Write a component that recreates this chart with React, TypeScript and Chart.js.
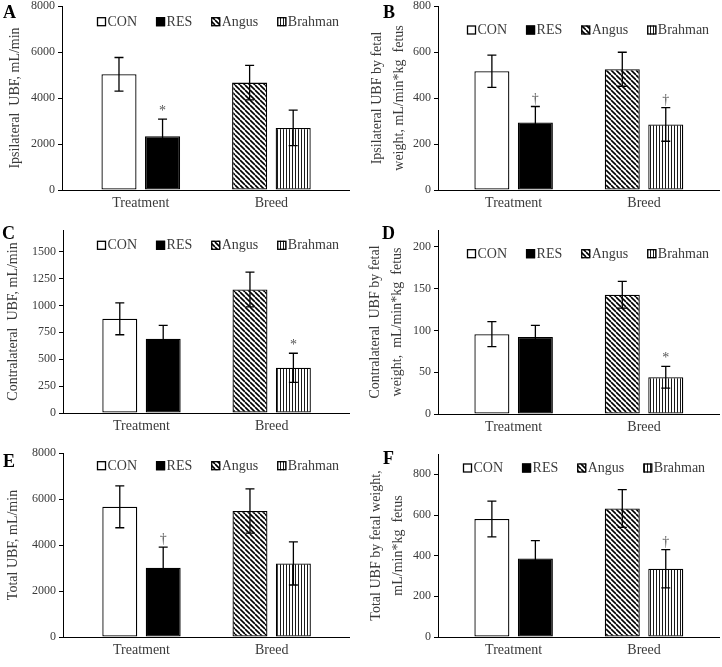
import React, { useEffect, useRef } from 'react';
import { Chart, registerables } from 'chart.js';

Chart.register(...registerables);

// ---------- data ----------
const categories = ['Treatment', 'Breed'];
const seriesNames = ['CON', 'RES', 'Angus', 'Brahman'];
const seriesCategory = [0, 0, 1, 1];

// A: Ipsilateral UBF, mL/min
const ipsiMeans = [5030, 2340, 4670, 2700];
const ipsiSem = [730, 740, 750, 770];
const ipsiMarks = ['', '*', '', ''];
const ipsiTicks = [0, 2000, 4000, 6000, 8000];

// B: Ipsilateral UBF by fetal weight
const ipsiFwMeans = [516, 294, 525, 285];
const ipsiFwSem = [70, 69, 74, 73];
const ipsiFwMarks = ['', '†', '', '†'];
const ipsiFwTicks = [0, 200, 400, 600, 800];

// C: Contralateral UBF, mL/min
const contraMeans = [875, 690, 1147, 420];
const contraSem = [148, 124, 162, 135];
const contraMarks = ['', '', '', '*'];
const contraTicks = [0, 250, 500, 750, 1000, 1250, 1500];

// D: Contralateral UBF by fetal weight
const contraFwMeans = [95.5, 92, 142.5, 44];
const contraFwSem = [15, 14, 16, 13];
const contraFwMarks = ['', '', '', '*'];
const contraFwTicks = [0, 50, 100, 150, 200];

// E: Total UBF, mL/min
const totalMeans = [5660, 3010, 5480, 3200];
const totalSem = [910, 900, 960, 940];
const totalMarks = ['', '†', '', ''];
const totalTicks = [0, 2000, 4000, 6000, 8000];

// F: Total UBF by fetal weight
const totalFwMeans = [580, 386, 632, 336];
const totalFwSem = [88, 88, 93, 94];
const totalFwMarks = ['', '', '', '†'];
const totalFwTicks = [0, 200, 400, 600, 800];

const panels = [
  { letter: 'A', means: ipsiMeans, sem: ipsiSem, marks: ipsiMarks, ticks: ipsiTicks, max: 8000, title: 'Ipsilateral  UBF, mL/min' as string | string[] },
  { letter: 'B', means: ipsiFwMeans, sem: ipsiFwSem, marks: ipsiFwMarks, ticks: ipsiFwTicks, max: 800, title: ['Ipsilateral UBF by fetal', 'weight, mL/min*kg  fetus'] },
  { letter: 'C', means: contraMeans, sem: contraSem, marks: contraMarks, ticks: contraTicks, max: 1700, title: 'Contralateral  UBF, mL/min' },
  { letter: 'D', means: contraFwMeans, sem: contraFwSem, marks: contraFwMarks, ticks: contraFwTicks, max: 220, title: ['Contralateral  UBF by fetal', 'weight,  mL/min*kg  fetus'] },
  { letter: 'E', means: totalMeans, sem: totalSem, marks: totalMarks, ticks: totalTicks, max: 8000, title: 'Total UBF, mL/min' },
  { letter: 'F', means: totalFwMeans, sem: totalFwSem, marks: totalFwMarks, ticks: totalFwTicks, max: 900, title: ['Total UBF by fetal weight,', 'mL/min*kg  fetus'] },
];

// ---------- layout ----------
const layouts = [
  { x: 0, y: 0, w: 361, h: 222, left: 62, top: 6, right: 349, bottom: 190, xMin: -0.603, xMax: 1.594, legendX: 97, legendY: 21.7, letterX: 3, letterY: 18, titlePad: 6.6 },
  { x: 361, y: 0, w: 361, h: 222, left: 77, top: 6, right: 358, bottom: 190, xMin: -0.58, xMax: 1.575, legendX: 106, legendY: 30, letterX: 22, letterY: 18, titlePad: 5 },
  { x: 0, y: 222, w: 361, h: 222, left: 63, top: 8, right: 349, bottom: 191, xMin: -0.603, xMax: 1.594, legendX: 97, legendY: 23.3, letterX: 2, letterY: 17, titlePad: 4.6 },
  { x: 361, y: 222, w: 361, h: 222, left: 77, top: 8, right: 358, bottom: 192, xMin: -0.58, xMax: 1.575, legendX: 106, legendY: 31.7, letterX: 21, letterY: 17, titlePad: 3 },
  { x: 0, y: 444, w: 361, h: 223, left: 63, top: 9, right: 349, bottom: 193, xMin: -0.603, xMax: 1.594, legendX: 97, legendY: 21.7, letterX: 3, letterY: 23, titlePad: 4.6 },
  { x: 361, y: 444, w: 361, h: 223, left: 77, top: 10, right: 358, bottom: 193, xMin: -0.58, xMax: 1.575, legendX: 102, legendY: 24, letterX: 22, letterY: 20, titlePad: 4 },
];

const FAMILY = '"Liberation Serif", "Times New Roman", serif';
const TEXT = '#3a3a3a';

function makeDiagPattern(): CanvasPattern | string {
  const s = 5;
  const c = document.createElement('canvas');
  c.width = s; c.height = s;
  const g = c.getContext('2d');
  if (!g) return '#888';
  g.fillStyle = '#fff';
  g.fillRect(0, 0, s, s);
  g.strokeStyle = '#000';
  g.lineWidth = 1.6;
  g.beginPath();
  for (const o of [-s, 0, s]) { g.moveTo(o, 0); g.lineTo(o + s, s); }
  g.stroke();
  return g.createPattern(c, 'repeat') || '#888';
}

function makeVertPattern(): CanvasPattern | string {
  const c = document.createElement('canvas');
  c.width = 3; c.height = 3;
  const g = c.getContext('2d');
  if (!g) return '#aaa';
  g.fillStyle = '#fff';
  g.fillRect(0, 0, 3, 3);
  g.fillStyle = '#1a1a1a';
  g.fillRect(1, 0, 1, 3);
  return g.createPattern(c, 'repeat') || '#aaa';
}

const errorBarPlugin = {
  id: 'errorBars',
  afterDatasetsDraw(chart: any) {
    const { ctx } = chart;
    const yScale = chart.scales.y;
    ctx.save();
    chart.data.datasets.forEach((ds: any, i: number) => {
      const meta = chart.getDatasetMeta(i);
      meta.data.forEach((el: any, j: number) => {
        const raw = ds.data[j];
        if (!raw || raw.y == null) return;
        const top = yScale.getPixelForValue(raw.y + ds.sem);
        const bot = yScale.getPixelForValue(raw.y - ds.sem);
        const x = el.x;
        ctx.strokeStyle = '#000';
        ctx.lineWidth = 1.3;
        ctx.beginPath();
        ctx.moveTo(x, top); ctx.lineTo(x, bot);
        ctx.moveTo(x - 4.5, top); ctx.lineTo(x + 4.5, top);
        ctx.moveTo(x - 4.5, bot); ctx.lineTo(x + 4.5, bot);
        ctx.stroke();
        if (ds.mark) {
          ctx.fillStyle = '#555';
          ctx.font = '14px ' + FAMILY;
          ctx.textAlign = 'center';
          ctx.textBaseline = 'alphabetic';
          ctx.fillText(ds.mark, x, top - 4);
        }
      });
    });
    ctx.restore();
  },
};

const boxLegendPlugin = {
  id: 'boxLegend',
  afterDraw(chart: any, _args: any, opts: any) {
    const { ctx } = chart;
    ctx.save();
    ctx.font = '14px ' + FAMILY;
    ctx.textBaseline = 'middle';
    ctx.textAlign = 'left';
    let x = opts.x;
    const y = opts.y;
    chart.data.datasets.forEach((ds: any) => {
      ctx.fillStyle = ds.backgroundColor;
      ctx.fillRect(x, y - 4.5, 9, 9);
      ctx.strokeStyle = '#000';
      ctx.lineWidth = 1.3;
      ctx.strokeRect(x + 0.5, y - 4, 8, 8);
      ctx.fillStyle = TEXT;
      ctx.fillText(ds.label, x + 10.5, y + 0.5);
      x += 10.5 + ctx.measureText(ds.label).width + 19;
    });
    ctx.restore();
  },
};

const letterPlugin = {
  id: 'panelLetter',
  afterDraw(chart: any, _args: any, opts: any) {
    const { ctx } = chart;
    ctx.save();
    ctx.font = 'bold 18px ' + FAMILY;
    ctx.fillStyle = '#000';
    ctx.textAlign = 'left';
    ctx.textBaseline = 'alphabetic';
    ctx.fillText(opts.letter, opts.x, opts.y);
    ctx.restore();
  },
};

function Panel({ idx }: { idx: number }) {
  const ref = useRef<HTMLCanvasElement>(null);
  const p = panels[idx];
  const L = layouts[idx];
  useEffect(() => {
    if (!ref.current) return;
    const fills = ['#ffffff', '#000000', makeDiagPattern(), makeVertPattern()];
    const twoLine = Array.isArray(p.title);
    const chart = new Chart(ref.current, {
      type: 'bar',
      data: {
        datasets: seriesNames.map((name, i) => ({
          label: name,
          data: categories.map((_, ci) => ({ x: ci, y: ci === seriesCategory[i] ? p.means[i] : null })),
          sem: p.sem[i],
          mark: p.marks[i],
          backgroundColor: fills[i],
          borderColor: '#000',
          borderWidth: 1.3,
          borderSkipped: false,
          categoryPercentage: 0.667,
          barPercentage: 0.805,
          skipNull: true,
        })) as any,
      },
      options: {
        responsive: false,
        animation: false,
        events: [],
        layout: { padding: { left: 0, top: L.top, right: L.w - L.right, bottom: 0 } },
        plugins: {
          legend: { display: false },
          tooltip: { enabled: false },
          boxLegend: { x: L.legendX, y: L.legendY },
          panelLetter: { letter: p.letter, x: L.letterX, y: L.letterY },
        } as any,
        scales: {
          x: {
            type: 'linear',
            offset: false,
            grace: 0,
            min: L.xMin,
            max: L.xMax,
            afterBuildTicks: (s: any) => {
              s.ticks = categories.map((_, i) => ({ value: i }));
              s.min = L.xMin;
              s.max = L.xMax;
            },
            afterFit: (s: any) => { s.height = L.h - L.bottom; s.paddingLeft = 0; s.paddingRight = 0; },
            grid: { display: false, drawTicks: false, offset: false },
            border: { display: true, color: '#000', width: 1 },
            ticks: {
              callback: (v: any) => categories[Math.round(Number(v))] ?? '',
              font: { family: FAMILY, size: 14 },
              color: TEXT,
              padding: 5,
              autoSkip: false,
              maxRotation: 0,
            },
          },
          y: {
            min: 0,
            max: p.max,
            afterBuildTicks: (s: any) => { s.ticks = p.ticks.map((v) => ({ value: v })); },
            afterFit: (s: any) => { s.width = L.left; s.paddingTop = 0; s.paddingBottom = 0; },
            grid: { drawOnChartArea: false, drawTicks: true, tickLength: 4, color: '#000' },
            border: { display: true, color: '#000', width: 1 },
            ticks: {
              callback: (v: any) => String(v),
              font: { family: FAMILY, size: 12 },
              color: TEXT,
              padding: 3,
            },
            title: {
              display: true,
              text: p.title,
              color: TEXT,
              font: { family: FAMILY, size: 14, lineHeight: twoLine ? 22 / 14 : 1.2 },
              padding: { top: L.titlePad, bottom: 0 },
            },
          },
        },
      } as any,
      plugins: [errorBarPlugin, boxLegendPlugin, letterPlugin],
    });
    return () => chart.destroy();
  }, [idx]);
  return (
    <div style={{ position: 'absolute', left: L.x, top: L.y, width: L.w, height: L.h }}>
      <canvas ref={ref} width={L.w} height={L.h} style={{ display: 'block', width: L.w, height: L.h }} />
    </div>
  );
}

export default function App() {
  return (
    <div style={{ position: 'absolute', left: 0, top: 0, width: 722, height: 667, background: '#fff', overflow: 'hidden' }}>
      {panels.map((_, i) => <Panel key={i} idx={i} />)}
    </div>
  );
}
